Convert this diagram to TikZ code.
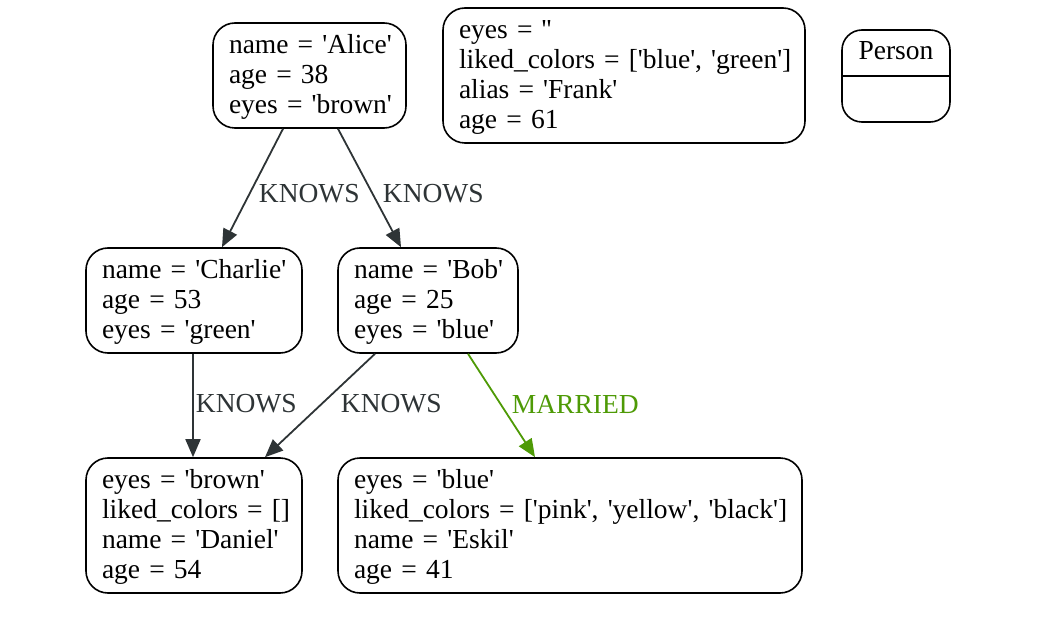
\documentclass[tikz,border=0pt]{standalone}
\usepackage{fontspec}
\setmainfont{Liberation Serif}
\usetikzlibrary{arrows.meta}
\definecolor{edgegray}{HTML}{2E3436}
\definecolor{marriedgreen}{HTML}{4E9A06}
\newcommand\tq{\textquotesingle}
\newcommand\rowtext[1]{\mbox{#1}}
\newcommand\firstrow[1]{\mbox{\rule{0pt}{22.5pt}#1}}
\begin{document}
\begin{tikzpicture}[x=1pt,y=-1pt,
  every node/.style={font=\fontsize{27.5pt}{30pt}\selectfont},
  entity/.style={draw=black, line width=1.6pt, rounded corners=22pt, inner xsep=16pt, inner ysep=0pt, align=left, anchor=center},
  rel/.style={draw=edgegray, line width=1.8pt, -{Triangle[length=18pt,width=15pt]}},
  married/.style={draw=marriedgreen, line width=1.8pt, -{Triangle[length=18pt,width=15pt]}},
  rellabel/.style={text=edgegray, inner sep=0pt, anchor=west},
  marriedlabel/.style={text=marriedgreen, inner sep=0pt, anchor=west},
]
\useasboundingbox (0,0) rectangle (1043,628);

\node[entity, minimum width=193pt, minimum height=105pt, text width=161pt] (alice) at (309.5,75.5)
  {\firstrow{name = \tq Alice\tq}\\\rowtext{age = 38}\\\rowtext{eyes = \tq brown\tq}};
\node[entity, minimum width=362pt, minimum height=135pt, text width=330pt] (frank) at (624,75.5)
  {\firstrow{eyes = \tq\tq}\\\rowtext{liked\_colors = [\tq blue\tq, \tq green\tq]}\\\rowtext{alias = \tq Frank\tq}\\\rowtext{age = 61}};
\node[draw=black, line width=1.6pt, rounded corners=20pt, minimum width=108pt, minimum height=92pt, inner sep=0pt] (person) at (896,76) {};
\draw[line width=1.6pt] (person.west) -- (person.east);
\node[anchor=base, inner sep=0pt] (persontitle) at ([yshift=16pt]person.center) {Person};

\node[entity, minimum width=216pt, minimum height=105pt, text width=184pt] (charlie) at (194,300.5)
  {\firstrow{name = \tq Charlie\tq}\\\rowtext{age = 53}\\\rowtext{eyes = \tq green\tq}};
\node[entity, minimum width=180pt, minimum height=105pt, text width=148pt] (bob) at (428,300.5)
  {\firstrow{name = \tq Bob\tq}\\\rowtext{age = 25}\\\rowtext{eyes = \tq blue\tq}};

\node[entity, minimum width=216pt, minimum height=135pt, text width=184pt] (daniel) at (194,525.5)
  {\firstrow{eyes = \tq brown\tq}\\\rowtext{liked\_colors = []}\\\rowtext{name = \tq Daniel\tq}\\\rowtext{age = 54}};
\node[entity, minimum width=464pt, minimum height=135pt, text width=432pt] (eskil) at (570,525.5)
  {\firstrow{eyes = \tq blue\tq}\\\rowtext{liked\_colors = [\tq pink\tq, \tq yellow\tq, \tq black\tq]}\\\rowtext{name = \tq Eskil\tq}\\\rowtext{age = 41}};

\draw[rel] ([xshift=-26.5pt]alice.south) -- node[rellabel, xshift=5.5pt, yshift=-6pt] {KNOWS} ([xshift=28pt]charlie.north);
\draw[rel] ([xshift=28.5pt]alice.south) -- node[rellabel, xshift=12.5pt, yshift=-6pt] {KNOWS} ([xshift=-27pt]bob.north);
\draw[rel] ([xshift=-1pt]charlie.south) -- node[rellabel, xshift=2pt, yshift=1.5pt] {KNOWS} ([xshift=-1pt]daniel.north);
\draw[rel] ([xshift=-53pt]bob.south) -- node[rellabel, xshift=20pt, yshift=1.5pt] {KNOWS} ([xshift=71pt]daniel.north);
\draw[married] ([xshift=40pt]bob.south) -- node[marriedlabel, xshift=9.5pt, yshift=1.5pt] {MARRIED} ([xshift=-35pt]eskil.north);
\end{tikzpicture}
\end{document}
